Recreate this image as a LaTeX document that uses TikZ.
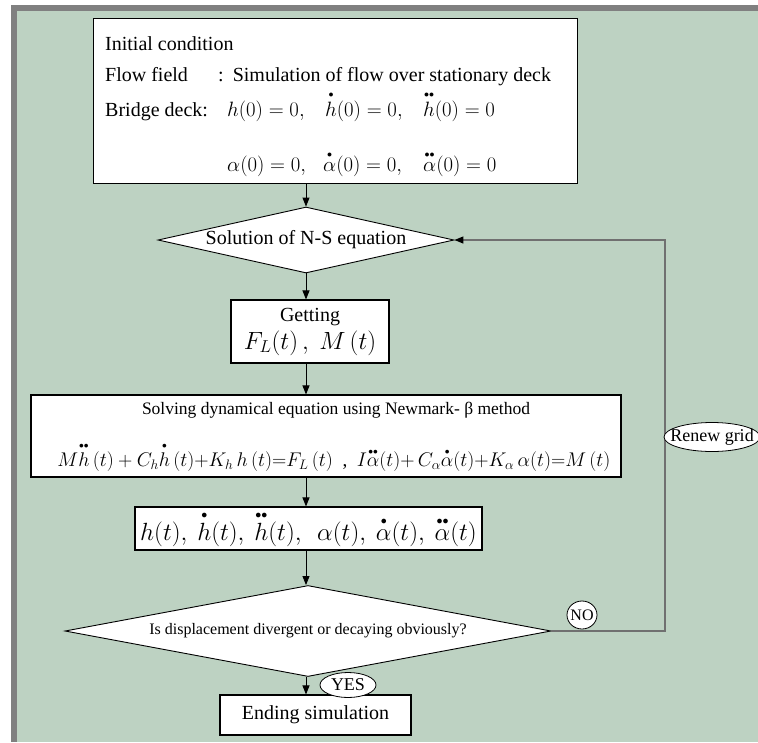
\documentclass[tikz,border=0pt]{standalone}
\usepackage{amsmath}
\usepackage{fontspec}
\setmainfont{Liberation Serif}
\usetikzlibrary{arrows.meta,positioning,shapes.geometric}

\definecolor{bggreen}{RGB}{189,210,194}
\definecolor{framegray}{RGB}{128,128,128}
\definecolor{loopgray}{RGB}{112,112,112}
\newcommand{\fsz}[1]{\fontsize{#1}{#1}\selectfont}
\newcommand{\pdot}[1]{\overset{\scriptscriptstyle\bullet}{#1}}
\newcommand{\pddot}[1]{\overset{\scriptscriptstyle\bullet\bullet}{#1}}

\begin{document}
\begin{tikzpicture}[x=1pt,y=-1pt,>={Triangle[length=9pt,width=7pt]},
  box/.style={draw,fill=white,line width=1.1pt,inner sep=0pt},
  decision/.style={diamond,draw,fill=white,line width=0.9pt,inner sep=0pt},
  tag/.style={ellipse,draw,fill=white,line width=0.8pt,inner sep=0pt},
  flow/.style={->,line width=0.9pt},
  txt/.style={anchor=base west,inner sep=0pt,font=\fsz{20}}]
\useasboundingbox (0,0) rectangle (758,742);
\fill[white] (0,0) rectangle (758,742);
\fill[framegray] (11,5) rectangle (758,742);
\fill[bggreen] (17,11) rectangle (758,742);

% initial condition
\node[box,anchor=north west,minimum width=484pt,minimum height=165pt] (init) at (93,18) {};
\node[txt] (ic) at (105,50) {Initial condition};
\node[txt] (ff) at (105,81) {Flow field};
\node[txt] (ffv) at (218,81) {:\hspace{9pt}Simulation of flow over stationary deck};
\node[txt] (bd) at (105,116) {Bridge deck:};
\node[txt] (bdh) at (227,116) {\makebox[98pt][l]{$h(0)=0,$}\makebox[98pt][l]{$\pdot{h}(0)=0,$}$\pddot{h}(0)=0$};
\node[txt] (bda) at (227,171) {\makebox[96pt][l]{$\alpha(0)=0,$}\makebox[100pt][l]{$\pdot{\alpha}(0)=0,$}$\pddot{\alpha}(0)=0$};

% main chain
\node[decision,minimum width=296pt,minimum height=66pt,aspect=4.5,font=\fsz{20}] (ns) at (306,240) {Solution of N-S equation};
\node[box,minimum width=158pt,minimum height=63pt,align=center] (get) at (310,331.5)
  {{\fsz{20}Getting}\\[4pt]{\fsz{25}$F_L(t)\,,\ M\,(t)$}};
\node[box,minimum width=590pt,minimum height=82pt] (solv) at (326,436) {};
\node[font=\fsz{17.5},inner sep=0pt] (solvt) at (336,410) {Solving dynamical equation using Newmark- β method};
\node[font=\fsz{20},inner sep=0pt] (solve) at (334,457)
  {\resizebox{553pt}{!}{$M\pddot{h}\,(t)+C_h\pdot{h}\,(t){+}K_h\,h\,(t){=}F_L\,(t)$\ \ ,\ \ $I\pddot{\alpha}(t){+}\,C_\alpha\pdot{\alpha}(t){+}K_\alpha\,\alpha(t){=}M\,(t)$}};
\node[box,minimum width=347pt,minimum height=43pt,font=\fsz{23}] (resp) at (308.5,528.5)
  {$h(t),\ \pdot{h}(t),\ \pddot{h}(t),\ \ \alpha(t),\ \pdot{\alpha}(t),\ \pddot{\alpha}(t)$};
\node[decision,minimum width=486pt,minimum height=91pt,aspect=5.3,font=\fsz{16}] (dec) at (308,631) {Is displacement divergent or decaying obviously?};
\node[box,minimum width=191pt,minimum height=40pt,font=\fsz{20}] (end) at (315.5,715) {Ending simulation};

\draw[flow] (init.south -| ns) -- (ns.north);
\draw[flow] (ns.south) -- (get.north -| ns);
\draw[flow] (get.south -| ns) -- (solv.north -| ns);
\draw[flow] (solv.south -| ns) -- (resp.north -| ns);
\draw[flow] (resp.south -| ns) -- (dec.north -| ns);
\draw[flow] (dec.south -| ns) -- (end.north -| ns);

% back loop
\coordinate (back) at (665,631);
\draw[loopgray,line width=1.3pt,-{Triangle[length=9pt,width=7pt,color=black]}] (dec.east) -- (back) |- (ns.east);

% tags
\node[tag,minimum width=96pt,minimum height=29pt,label={[font=\fsz{18}]center:Renew grid}] (renew) at (712,437) {};
\node[tag,minimum width=30pt,minimum height=28pt,label={[font=\fsz{16}]center:NO}] (no) at (582,615) {};
\node[tag,minimum width=56pt,minimum height=25pt,label={[font=\fsz{18}]center:YES}] (yes) at (348,685) {};
\end{tikzpicture}
\end{document}
